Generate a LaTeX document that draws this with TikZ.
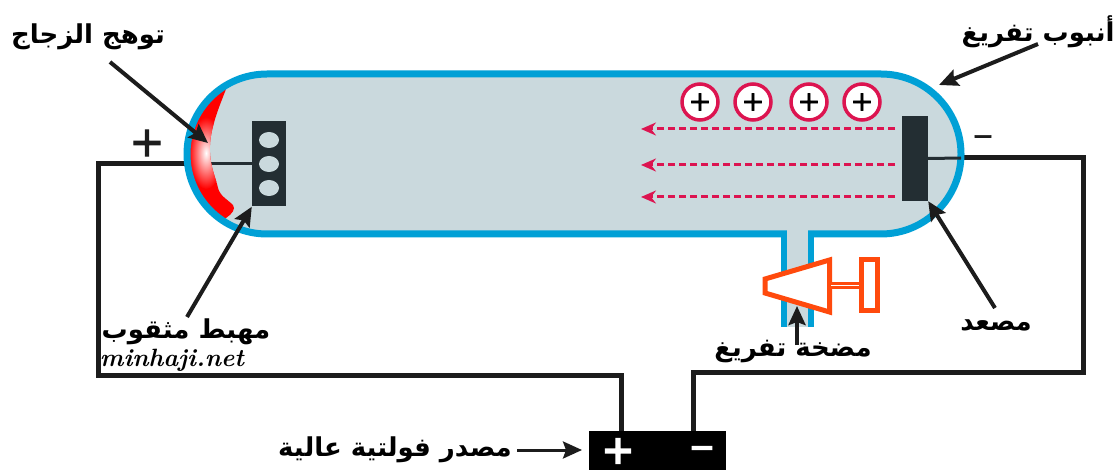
\documentclass[tikz,border=0pt]{standalone}
\usepackage{fontspec}
\usetikzlibrary{arrows.meta}
\newfontfamily\arabicfont[Script=Arabic]{DejaVu Sans}
\newfontfamily\signfont[FakeBold=2.5]{DejaVu Sans}
\newfontfamily\heavysign[FakeBold=6]{DejaVu Sans}
\TeXXeTstate=1

\definecolor{tubeblue}{HTML}{00A0D6}
\definecolor{gasgray}{HTML}{CAD9DD}
\definecolor{electrode}{HTML}{232E33}
\definecolor{iontone}{HTML}{DC1450}
\definecolor{pumptone}{HTML}{FF4A0D}
\definecolor{wiretone}{HTML}{1C1C1C}

\tikzset{
  arlabel/.style={font=\arabicfont\bfseries\fontsize{26}{30}\selectfont, inner sep=0pt},
  pointer/.style={wiretone, line width=4pt, -{Stealth[length=19pt,width=17pt,inset=3pt]}},
  wire/.style={wiretone, line width=5pt},
  lead/.style={electrode, line width=3pt},
  beam/.style={iontone, line width=3pt, dash pattern=on 7pt off 4pt,
    -{Stealth[length=15pt,width=13pt,inset=5pt]}},
  ion/.style={circle, draw=iontone, line width=3.5pt, fill=white, minimum size=36pt,
    inner sep=0pt, font=\signfont\fontsize{27}{27}\selectfont},
  plate/.style={fill=electrode, inner sep=0pt},
  sign/.style={inner sep=0pt, font=\signfont\fontsize{#1}{#1}\selectfont},
  cellsign/.style={inner sep=0pt, text=white, font=\heavysign\fontsize{#1}{#1}\selectfont},
  pump/.style={pumptone, fill=white, line width=#1}
}

\begin{document}
\begin{tikzpicture}[x=1pt,y=-1pt]
  \useasboundingbox (0,0) rectangle (1118,470);
  \coordinate (lin) at (187,164);
  \coordinate (rin) at (961,158);
  \coordinate (cw) at (252,164);

  % source and circuit
  \node[fill=black, minimum width=137pt, minimum height=42pt, inner sep=0pt]
    (battery) at (657.5,452) {};
  \node[cellsign=38] at (618,451) {+};
  \node[cellsign=30] at (702,452) {−};
  \draw[wire] (lin) -| (98,375) -| ([xshift=-36.5pt]battery.north);
  \draw[wire] (rin) -| (1083,372) -| ([xshift=35.5pt]battery.north);

  % tube with the glowing glass at the cathode end
  \begin{scope}
    \clip[rounded corners=80pt] (187,74) rectangle (961,234);
    \fill[gasgray] (180,70) rectangle (970,240);
    \draw[lead] (lin) -- (cw);
    \clip (228,84) .. controls (220,105) and (211,125) .. (210,145)
      .. controls (209,165) and (216,178) .. (218,188)
      .. controls (220,196) and (228,200) .. (233,205)
      .. controls (236,209) and (232,214) .. (226,218)
      -- (170,230) -- (170,80) -- cycle;
    \fill[red] (170,70) rectangle (250,240);
    \shade[inner color=white, outer color=red] (206,153) ellipse (17pt and 36pt);
  \end{scope}
  \draw[tubeblue, line width=7pt, rounded corners=80pt] (187,74) rectangle (961,234);
  \fill[gasgray] (787,228) rectangle (808,327);
  \draw[tubeblue, line width=6pt] (784,231) -- (784,327) (811,231) -- (811,327);

  % electrodes
  \node[plate, minimum width=34pt, minimum height=85pt] (cathode) at (269,164) {};
  \foreach \y in {140,164,188}
    \fill[gasgray] (269,\y) ellipse (10pt and 8pt);
  \node[plate, minimum width=26pt, minimum height=85pt] (anode) at (915,158.5) {};
  \draw[lead] (anode.east) -- (rin);
  \node[sign=42, text=wiretone] (pluspole) at (147,143) {+};
  \node[sign=26, text=wiretone] (minuspole) at (983,140) {−};

  % positive ions and the rays
  \foreach \x [count=\i] in {700,753,809,862}
    \node[ion] (ion\i) at (\x,102) {+};
  \foreach \y in {129,165,197}
    \draw[beam] (895,\y) -- (641,\y);

  % pump
  \draw[pump=5pt, line join=miter] (765,279) -- (829.5,260) -- (829.5,312) -- (765,293) -- cycle;
  \draw[pump=3pt] (829.5,283.5) rectangle (861,287.5);
  \draw[pump=5pt] (861,259.5) rectangle (877.5,310.5);

  % labels
  \node[arlabel] (glow) at (88,37) {\beginR توهج الزجاج\endR};
  \node[arlabel] (tube) at (1038,32) {\beginR أنبوب تفريغ\endR};
  \node[arlabel] (porous) at (186,332) {\beginR مهبط مثقوب\endR};
  \node[arlabel] (anodelbl) at (996,325) {\beginR مصعد\endR};
  \node[arlabel] (pumplbl) at (793,352) {\beginR مضخة تفريغ\endR};
  \node[arlabel] (source) at (395,450) {\beginR مصدر فولتية عالية\endR};
  \node[inner sep=0pt, font=\bfseries\itshape\fontsize{25}{25}\selectfont] (site) at (172,360) {minhaji.net};

  \coordinate (glowtail) at (110,62);   \coordinate (glowtip) at (208,143);
  \coordinate (tubetail) at (1038,44);  \coordinate (tubetip) at (939,85);
  \coordinate (poroustail) at (187,317);
  \coordinate (anodetail) at (995,308);
  \coordinate (pumptail) at (797,345);  \coordinate (pumptip) at (797,306);
  \coordinate (sourcetail) at (517,450); \coordinate (sourcetip) at (582,450);

  \draw[pointer] (glowtail) -- (glowtip);
  \draw[pointer] (tubetail) -- (tubetip);
  \draw[pointer] (poroustail) -- (cathode.south west);
  \draw[pointer] (anodetail) -- (anode.south east);
  \draw[pointer] (pumptail) -- (pumptip);
  \draw[pointer, line width=3pt] (sourcetail) -- (sourcetip);
\end{tikzpicture}
\end{document}
